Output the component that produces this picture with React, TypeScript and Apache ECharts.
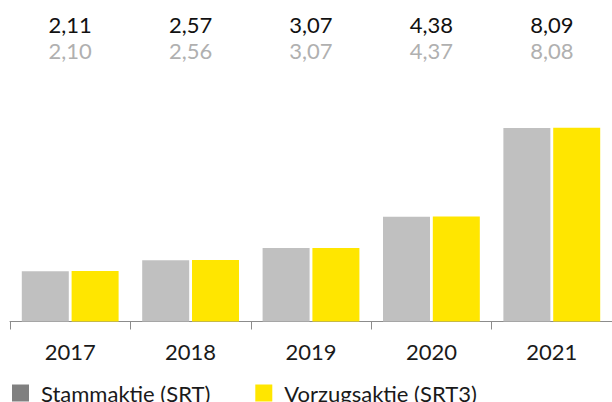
import React, { useEffect, useRef } from "react";
import * as echarts from "echarts";

const years = ["2017", "2018", "2019", "2020", "2021"];
const stammaktie = [2.1, 2.56, 3.07, 4.37, 8.08];
const vorzugsaktie = [2.11, 2.57, 3.07, 4.38, 8.09];
const seriesNames = ["Stammaktie (SRT)", "Vorzugsaktie (SRT3)"];

const fmt = (v: number) => v.toFixed(2).replace(".", ",");
const FONT = "Lato";
const W = 400;

export default function App() {
  const ref = useRef<HTMLDivElement>(null);
  useEffect(() => {
    if (!ref.current) return;
    const chart = echarts.init(ref.current, undefined, { renderer: "svg" });
    chart.setOption({
      animation: false,
      textStyle: { fontFamily: FONT, fontWeight: W },
      grid: { left: 10, right: 0, top: 82, bottom: 80.5, outerBoundsMode: "none" },
      legend: {
        left: 12,
        top: 382,
        padding: 0,
        itemWidth: 17,
        itemHeight: 17,
        itemGap: 45,
        icon: "rect",
        textStyle: { fontSize: 22, color: "#1a1a1a", fontFamily: FONT, fontWeight: W, padding: [0, 0, 0, 7] },
        data: [
          { name: seriesNames[0], itemStyle: { color: "#808080" } },
          { name: seriesNames[1], itemStyle: { color: "#ffe600" } },
        ],
      },
      xAxis: [
        {
          type: "category",
          data: years,
          position: "bottom",
          axisLine: { lineStyle: { color: "#8c8c8c", width: 1 } },
          axisTick: { show: true, length: 8, lineStyle: { color: "#8c8c8c" } },
          axisLabel: { fontSize: 22, color: "#1a1a1a", margin: 19, fontFamily: FONT, fontWeight: W },
        },
        {
          type: "category",
          data: years,
          position: "top",
          axisLine: { show: false },
          axisTick: { show: false },
          axisLabel: {
            margin: 19,
            formatter: (_v: string, i: number) =>
              `{a|${fmt(vorzugsaktie[i])}}\n{b|${fmt(stammaktie[i])}}`,
            rich: {
              a: { fontSize: 22, color: "#111111", lineHeight: 26, fontFamily: FONT, fontWeight: W },
              b: { fontSize: 22, color: "#b0b0b0", lineHeight: 26, fontFamily: FONT, fontWeight: W },
            },
          },
        },
      ],
      yAxis: { type: "value", min: 0, max: 10, show: false, splitLine: { show: false } },
      series: [
        {
          name: seriesNames[0],
          type: "bar",
          data: stammaktie,
          barWidth: 47,
          barGap: "6%",
          itemStyle: { color: "#c0c0c0" },
        },
        {
          name: seriesNames[1],
          type: "bar",
          data: vorzugsaktie,
          barWidth: 47,
          itemStyle: { color: "#ffe600" },
        },
      ],
    });
    return () => chart.dispose();
  }, []);
  return <div ref={ref} style={{ width: 612, height: 402, position: "absolute", left: 0, top: 0 }} />;
}
